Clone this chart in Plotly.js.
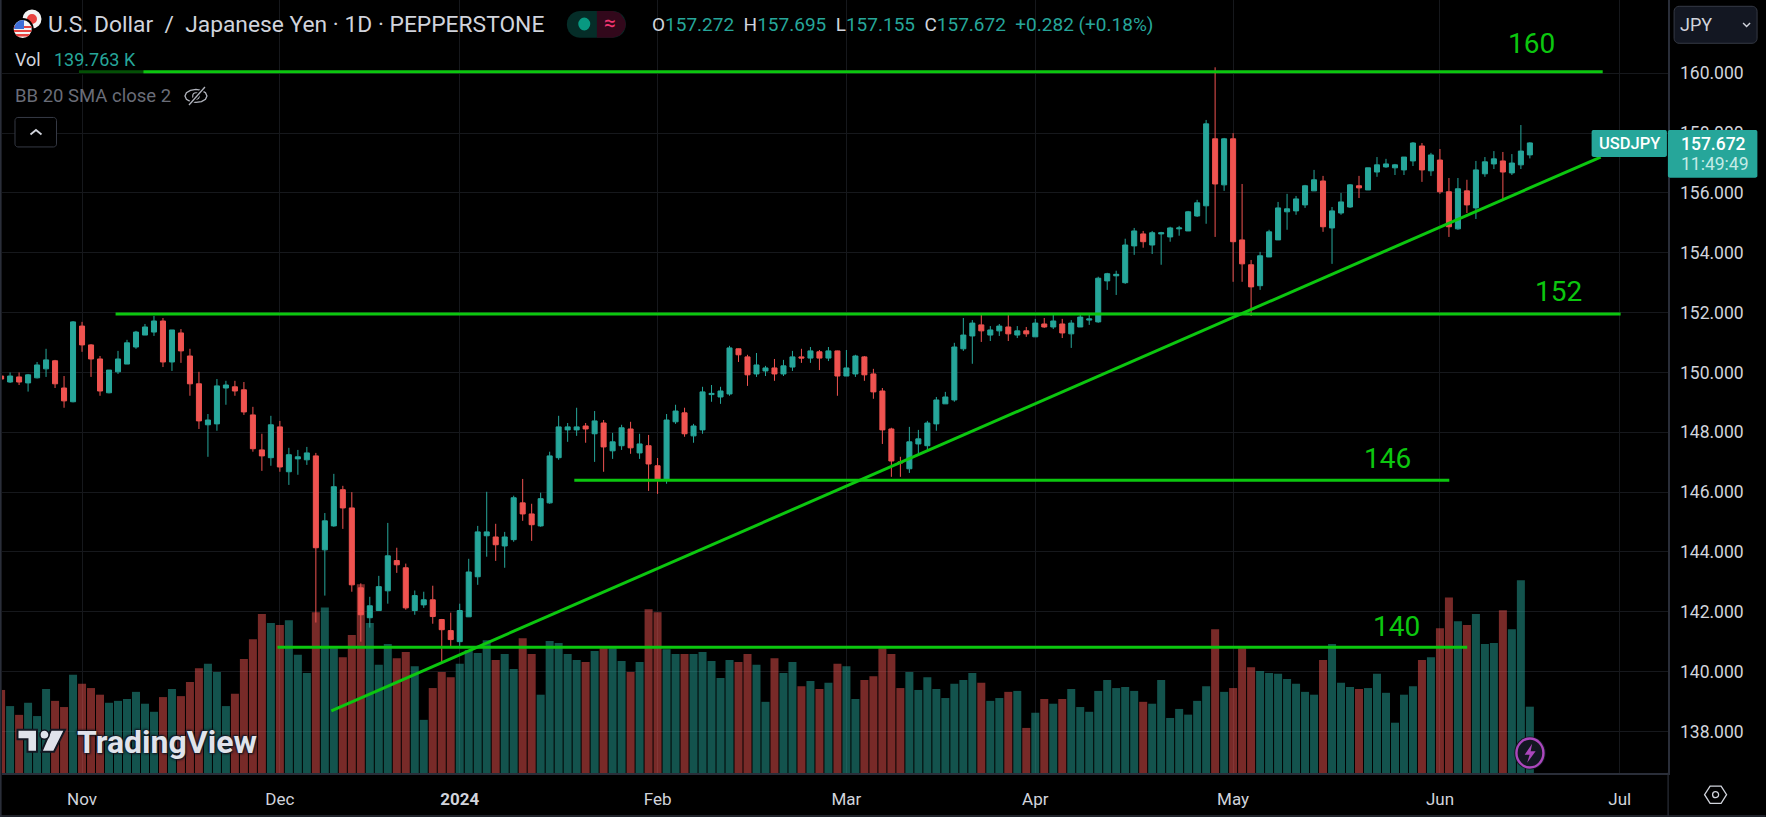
<!DOCTYPE html>
<html><head><meta charset="utf-8">
<script src="https://cdn.plot.ly/plotly-3.0.1.min.js"></script>
<style>html,body{margin:0;padding:0;background:#000;overflow:hidden}#c{width:1766px;height:817px}</style>
</head><body><div id="c"></div>
<script>
// Daily USD/JPY bars
const opens=[149.88,149.68,149.85,149.65,149.82,150.12,150.39,149.48,149.02,151.55,150.92,150.45,149.32,150.02,150.28,150.85,151.25,151.35,151.72,150.35,151.32,150.55,149.62,148.25,148.28,149.48,149.52,149.42,148.58,147.41,147.15,148.18,146.68,147.11,147.08,147.21,144.07,144.87,146.08,145.47,142.8,141.8,142.04,142.7,143.71,143.47,142.04,142.23,142.4,141.74,141.37,141.0,141.83,143.17,144.54,144.5,144.2,144.41,145.64,145.27,144.87,145.64,147.15,148.08,148.08,148.21,147.95,148.31,147.38,147.55,148.11,147.31,147.55,146.88,146.41,148.35,148.65,147.88,148.08,149.26,149.18,149.28,150.79,150.52,149.95,150.05,150.15,149.95,150.18,150.52,150.48,150.69,150.48,150.72,149.88,149.95,150.52,149.95,149.38,148.11,147.01,146.78,147.61,147.55,148.28,148.95,149.08,150.79,151.22,151.59,151.25,151.39,151.52,151.25,151.39,151.19,151.62,151.52,151.62,151.29,151.52,151.75,151.69,153.06,153.23,153.0,154.23,154.63,154.26,154.63,154.53,154.8,154.73,155.23,155.57,157.81,156.27,157.81,154.43,153.6,152.9,153.86,154.43,155.37,155.4,155.6,156.07,156.4,154.83,155.33,155.53,156.24,156.1,156.7,156.87,156.84,156.77,157.07,157.57,156.74,157.1,156.04,154.8,156.07,155.5,156.64,156.97,157.07,156.67,156.94,157.272];
const highs=[149.92,150.0,150.0,149.95,150.35,150.79,150.42,149.88,151.72,151.69,150.95,150.55,150.08,150.72,151.09,151.39,151.62,151.89,151.82,151.42,151.45,150.79,150.02,148.61,149.78,149.72,149.72,149.68,148.85,147.95,148.55,148.38,147.48,147.41,147.51,147.31,145.3,146.61,146.21,146.0,142.95,142.5,143.2,144.97,144.14,143.61,142.71,142.67,142.87,141.76,141.97,142.27,143.77,144.87,146.01,144.94,144.67,145.88,146.44,145.61,145.98,147.35,148.55,148.31,148.82,148.31,148.71,148.41,147.98,148.25,148.35,147.95,147.91,147.14,148.61,148.92,148.82,148.28,149.52,149.58,149.52,150.89,150.8,150.59,150.65,150.22,150.45,150.42,150.72,150.79,150.85,150.75,150.85,150.73,150.75,150.59,150.55,150.12,149.48,148.15,147.18,148.18,148.08,148.38,149.18,149.35,150.99,151.82,151.75,151.92,151.55,151.62,151.99,151.55,151.52,151.79,151.82,151.95,151.79,151.75,151.95,151.95,153.2,153.33,153.4,154.47,154.83,154.73,154.73,154.7,154.87,154.9,155.4,155.77,158.44,160.2,157.84,158.0,156.3,153.76,154.03,154.77,155.7,155.97,155.9,156.27,156.77,156.57,155.53,156.0,156.3,156.57,156.84,157.2,157.14,156.97,157.2,157.7,157.67,157.34,157.47,156.5,156.5,156.44,157.07,157.2,157.4,157.37,157.3,158.27,157.695];
const lows=[149.75,149.65,149.58,149.36,149.8,149.85,149.48,148.82,149.0,150.69,149.85,149.22,149.3,149.95,150.28,150.79,151.25,151.22,150.18,150.05,150.32,149.22,148.11,147.18,148.05,148.92,149.22,148.58,147.35,146.71,146.88,146.68,146.24,146.58,146.91,141.64,142.54,144.84,144.77,142.67,141.0,141.47,142.04,142.27,143.3,142.07,141.9,142.13,141.6,140.3,140.84,140.8,141.83,142.9,143.84,143.7,143.47,144.34,145.04,144.37,144.84,145.61,147.08,147.68,147.88,147.65,147.01,146.68,147.11,147.41,147.28,147.11,146.04,145.94,146.28,148.28,147.85,147.65,147.95,149.02,148.95,149.22,150.35,149.55,149.85,149.88,149.72,149.88,150.05,150.32,150.32,150.08,150.38,149.22,149.88,149.85,149.72,149.12,147.61,146.51,146.51,146.64,147.25,147.41,148.05,148.95,149.02,150.72,150.29,151.02,151.05,151.22,151.05,151.15,151.19,151.19,151.49,151.45,151.15,150.82,151.52,151.59,151.66,152.76,152.59,152.96,153.93,154.17,153.96,153.6,154.37,154.57,154.73,155.2,154.97,154.53,156.07,153.03,153.03,151.89,152.76,153.86,154.43,154.77,155.27,155.5,156.07,154.7,153.63,155.27,155.5,155.83,156.1,156.54,156.84,156.6,156.6,156.9,156.37,156.57,155.97,154.53,154.77,155.33,155.13,156.54,156.8,155.73,156.6,156.8,157.155];
const closes=[149.78,149.88,149.68,149.92,150.25,150.42,149.62,149.05,151.69,150.92,150.45,149.38,150.08,150.45,150.99,151.35,151.52,151.72,150.35,151.42,150.72,149.62,148.38,148.41,149.55,149.58,149.38,148.68,147.45,147.21,148.25,146.84,147.25,147.18,147.31,144.14,145.04,146.18,145.47,142.9,141.9,142.2,142.84,143.87,143.57,142.13,142.54,142.4,141.84,141.4,141.07,142.04,143.33,144.67,144.67,144.24,144.5,145.81,145.27,144.91,145.78,147.21,148.18,148.18,148.18,148.11,148.38,147.51,147.68,148.15,147.48,147.61,146.94,146.41,148.41,148.71,147.95,148.21,149.35,149.3,149.38,150.82,150.59,149.92,150.25,150.15,149.95,150.22,150.52,150.48,150.72,150.48,150.72,149.88,150.15,150.55,149.92,149.35,148.08,147.04,146.98,147.68,147.78,148.31,149.08,149.18,150.85,151.25,151.65,151.39,151.42,151.55,151.29,151.39,151.29,151.65,151.52,151.72,151.32,151.65,151.85,151.79,153.15,153.3,153.28,154.26,154.73,154.37,154.67,154.67,154.83,154.83,155.37,155.67,158.31,156.3,157.81,154.37,153.63,152.86,153.9,154.7,155.5,155.47,155.8,156.24,156.44,154.87,155.4,155.7,156.27,156.17,156.84,156.94,156.97,156.94,157.2,157.67,156.77,157.27,156.04,154.87,156.14,155.6,156.77,157.04,157.14,156.7,157.0,157.4,157.672];
const volumesK=[175,141,122.5,148,120,177,152,139,207,188,179,165,148,152,156,171,146,129,160,177,162,192,221,230,213,141,167,240,282,335,316,312,322,249,211,339,349,263,244,291,398,316,228,272,242,255,225,112,179,213,202,230,259,253,280,238,251,219,284,251,165,278,274,251,238,234,257,263,263,236,213,234,345,339,261,251,251,251,255,236,200,238,234,251,228,150,242,211,234,183,194,177,190,230,225,156,196,204,263,251,179,213,175,202,177,158,188,196,211,190,152,158,171,173,95,127,156,146,156,177,139,129,173,196,179,181,173,150,146,196,116,135,123,152,183,303,171,179,263,223,215,211,209,198,188,171,165,238,272,190,181,177,179,209,169,106,165,183,238,244,305,370,320,312,335,272,274,343,303,406,139.763];

// Month ticks sit on bar positions
const monthBars=[9,31,51,73,94,115,137,160,180];
const monthLabels=['Nov','Dec','<b>2024</b>','Feb','Mar','Apr','May','Jun','Jul'];
const priceTicks=[138,140,142,144,146,148,150,152,154,156,158,160];

// Hand-drawn levels: [startBar,endBar] at price
const level160Bars=[8.66,178.1],  level160Price=[160.05,160.05];
const level152Bars=[12.73,180.09],level152Price=[151.95,151.95];
const level146Bars=[63.74,161.04],level146Price=[146.4,146.4];
const level140Bars=[30.73,163.03],level140Price=[140.81,140.81];
const trendBars=[36.72,177.87],   trendPrice=[138.69,157.2];
const levelNames=['160','152','146','140'];
const levelNameBars=[170.2,173.2,154.2,155.2];
const levelNamePrices=[161.0,152.7,147.12,141.51];

// Colours
const UP='#26a69a',DN='#ef5350',VUP='rgba(38,166,154,0.5)',VDN='rgba(239,83,80,0.5)',GREEN='#0cc70f',TXT='#d1d4dc',BORDER='#2a2e39',GRID='#16181c';
const FONT='Roboto, sans-serif';

const barIdx=opens.map((_,i)=>i);
const W=1766,H=817,L=2,T=0,R=1668.4,B=773.3;
const X=p=>(p-L)/(R-L), Y=p=>1-(p-T)/(B-T);

const lvl=(x,y,w)=>({type:'scatter',mode:'lines',x,y,xaxis:'x',yaxis:'y2',line:{color:GREEN,width:w||3},hoverinfo:'skip',showlegend:false});
const data=[
 {type:'bar',x:barIdx,y:volumesK,xaxis:'x',yaxis:'y',marker:{color:barIdx.map(i=>closes[i]>=opens[i]?VUP:VDN),line:{width:0}},hoverinfo:'skip',showlegend:false},
 {type:'candlestick',x:barIdx,open:opens,high:highs,low:lows,close:closes,xaxis:'x',yaxis:'y2',whiskerwidth:0,
  increasing:{line:{color:UP,width:1},fillcolor:UP},decreasing:{line:{color:DN,width:1},fillcolor:DN},hoverinfo:'skip',showlegend:false},
 lvl(level160Bars,level160Price),lvl(level152Bars,level152Price),lvl(level146Bars,level146Price),lvl(level140Bars,level140Price),lvl(trendBars,trendPrice)
];

// ----- page furniture in pixel space -----
const path=(d,fill,stroke,sw,layer)=>({type:'path',xref:'paper',yref:'paper',path:d,fillcolor:fill||'rgba(0,0,0,0)',line:{color:stroke||'rgba(0,0,0,0)',width:sw||0},layer:layer||'above'});
const P=(...pts)=>pts.map((p,i)=>(i?'L':'M')+X(p[0]).toFixed(5)+','+Y(p[1]).toFixed(5)).join(' ');
const poly=(pts)=>P(...pts)+' Z';
const rect=(x0,y0,x1,y1,fill,stroke,sw)=>({type:'rect',xref:'paper',yref:'paper',x0:X(x0),x1:X(x1),y0:Y(y0),y1:Y(y1),fillcolor:fill,line:{color:stroke||'rgba(0,0,0,0)',width:sw||0},layer:'above'});
const circ=(cx,cy,rx,ry,fill,stroke,sw)=>({type:'circle',xref:'paper',yref:'paper',x0:X(cx-rx),x1:X(cx+rx),y0:Y(cy-ry),y1:Y(cy+ry),fillcolor:fill,line:{color:stroke||'rgba(0,0,0,0)',width:sw||0},layer:'above'});
const rrect=(x0,y0,x1,y1,r,fill,stroke,sw)=>{
 const pts=[];const arc=(cx,cy,a0)=>{for(let k=0;k<=6;k++){const a=a0+k*Math.PI/12;pts.push([cx+r*Math.cos(a),cy+r*Math.sin(a)]);}};
 arc(x1-r,y0+r,-Math.PI/2);arc(x1-r,y1-r,0);arc(x0+r,y1-r,Math.PI/2);arc(x0+r,y0+r,Math.PI);
 return path(poly(pts),fill,stroke,sw);
};
const shapes=[];
// frame
shapes.push(rect(0,0,1.6,817,BORDER));
shapes.push(rect(0,815.5,1766,817,BORDER));
shapes.push(rect(1667.9,773,1669.1,816,BORDER));
// dimmed part of the 160 line under the legend
shapes.push(rect(79,68,143.5,75,'rgba(0,0,0,0.6)'));
// flags
shapes.push(circ(32,19,9.5,9.5,'#f3f3f3'));
shapes.push(circ(32,19,5,5,'#e8423f'));
shapes.push(circ(22.7,29,11,11,'#000'));
shapes.push(circ(22.7,29,9,9,'#f4f4f4'));
const fc=22.7,fy=29,fr=9;
[[26,28],[30,32],[34,36.4]].forEach(([a,b])=>{
 const hw=y=>Math.sqrt(Math.max(0,fr*fr-(y-fy)*(y-fy)));
 shapes.push(path(poly([[fc-hw(a),a],[fc+hw(a),a],[fc+hw(b),b],[fc-hw(b),b]]),'#e8423f'));
});
shapes.push(path(poly([[15.5,24],[17.5,22],[20,20.5],[24,20.1],[24,29],[14,29]]),'#3f6fd8'));
// status pill
shapes.push(rrect(567,11,626,37.7,13,'#052d28'));
shapes.push(path(poly([[597,11],[613,11],[620,13],[625,20],[626,24],[625,29],[620,35.5],[613,37.7],[597,37.7]]),'#32081b'));
shapes.push(circ(584.4,24,6,6.5,'#089981'));
// eye icon
{const ex=196,ey=96,e=[];for(let k=0;k<=12;k++){const a=k*Math.PI/6;e.push([ex+11*Math.cos(a),ey+6.5*Math.sin(a)]);}
 shapes.push(path(poly(e),null,'#b2b5be',1.3));shapes.push(circ(ex,ey,3.2,3.2,'rgba(0,0,0,0)','#b2b5be',1.2));
 shapes.push(path(P([ex-7,ey+9],[ex+9,ey-9]),null,'#000',4));shapes.push(path(P([ex-7,ey+9],[ex+9,ey-9]),null,'#b2b5be',1.3));}
// collapse button
shapes.push(rrect(15,117.5,56.5,147,3,'#000','#363a45',1));
shapes.push(path(P([30.5,134.5],[36,130],[41.5,134.5]),null,'#d1d4dc',1.8));
// currency button
shapes.push(rrect(1674.5,6.3,1757.5,43.3,5,'#131722','#363a45',1));
shapes.push(path(P([1743.5,23],[1747,26.5],[1750.5,23]),null,'#d1d4dc',1.4));
// last price tags
shapes.push(rrect(1592,130,1667.3,157,2,UP));
shapes.push(rrect(1668.3,130,1757.8,177.7,2,UP));
// watermark
const mark=[poly([[17.5,730],[37,730],[37,752],[27.5,752],[27.5,739.5],[17.5,739.5]]),poly([[51,730],[65,730],[54,752],[41.5,752]])];
mark.forEach(d=>shapes.push(path(d,'#e0e3eb','#131722',2)));
shapes.push(circ(44.5,735,4.6,4.6,'#e0e3eb','#131722',1.5));
// lightning badge
shapes.push(circ(1530.3,753.3,15.7,16.5,'#131722'));
shapes.push(circ(1530.3,753.3,13.5,14.5,'#131722','#ab47bc',2.4));
shapes.push(path(poly([[1532.5,744],[1525,755],[1530,755],[1527.5,763],[1536,751.5],[1531,751.5]]),'#ab47bc'));
// settings icon
{const c=[1716,795],h=[];for(let k=0;k<6;k++){const a=k*Math.PI/3;h.push([c[0]+11*Math.cos(a),c[1]+10*Math.sin(a)]);}
 shapes.push(path(poly(h),null,'#d1d4dc',1.3));shapes.push(circ(c[0],c[1],3,3,'rgba(0,0,0,0)','#d1d4dc',1.3));}

const A=(text,px,py,size,color,anchor,extra)=>Object.assign({text,xref:'paper',yref:'paper',x:X(px),y:Y(py),xanchor:anchor||'left',yanchor:'middle',showarrow:false,
  font:{family:FONT,size,color},borderpad:0},extra||{});
const ann=[];
const teal='#26a69a';
ann.push(A('U.S. Dollar  /  Japanese Yen · 1D · PEPPERSTONE',47,25,22.8,TXT));
ann.push(A(`O<span style="color:${teal}">157.272</span>  H<span style="color:${teal}">157.695</span>  L<span style="color:${teal}">157.155</span>  C<span style="color:${teal}">157.672</span>  <span style="color:${teal}">+0.282 (+0.18%)</span>`,651,24.5,19,TXT));
ann.push(A('Vol',14,60,18,TXT));
ann.push(A('139.763 K',53,60,18,teal));
ann.push(A('BB 20 SMA close 2',14,96,18.5,'#6a6d78'));
ann.push(A('≈',610.5,23,21,'#f23671','center'));
ann.push(A('JPY',1679,25,18,TXT));
ann.push(A('USDJPY',1630,144,16.5,'#ffffff','center',{}));
ann[ann.length-1].font.weight=500;
ann.push(A('157.672',1680.5,144,17.5,'#ffffff'));
ann[ann.length-1].font.weight=500;
ann.push(A('11:49:49',1680.5,164,17.5,'#c4ebe6'));
ann.push(A('<b>TradingView</b>',76,742,32,'#e0e3eb','left',{}));
ann[ann.length-1].font.shadow='0 0 3px #131722, 1px 1px 2px #131722, -1px -1px 2px #131722';
levelNames.forEach((t,i)=>ann.push({text:t,xref:'x',yref:'y2',x:levelNameBars[i],y:levelNamePrices[i],showarrow:false,xanchor:'center',yanchor:'middle',font:{family:FONT,size:28,color:GREEN}}));

const layout={
 width:W,height:H,margin:{l:L,r:W-R,t:T,b:H-B,pad:0},paper_bgcolor:'#000',plot_bgcolor:'#000',
 showlegend:false,bargap:0.11,boxgap:0.2,dragmode:false,
 font:{family:FONT,color:TXT},
 xaxis:{type:'linear',range:[0.1,185.36],tickmode:'array',tickvals:monthBars,ticktext:monthLabels,showgrid:true,gridcolor:GRID,gridwidth:1,zeroline:false,
  rangeslider:{visible:false},showline:true,linecolor:BORDER,linewidth:1.5,ticks:'',tickfont:{family:FONT,size:17,color:TXT},ticklabelstandoff:10,anchor:'y'},
 yaxis:{range:[0,1629],showgrid:false,zeroline:false,showticklabels:false,ticks:'',fixedrange:true},
 yaxis2:{overlaying:'y',side:'right',anchor:'x',range:[136.61,162.45],tickmode:'array',tickvals:priceTicks,tickformat:'.3f',showgrid:true,gridcolor:GRID,gridwidth:1,zeroline:false,
  showline:true,linecolor:BORDER,linewidth:1.5,ticks:'',tickfont:{family:FONT,size:17.5,color:TXT},ticklabelstandoff:7},
 shapes,annotations:ann
};
Plotly.newPlot('c',data,layout,{staticPlot:true,displayModeBar:false});
</script></body></html>
